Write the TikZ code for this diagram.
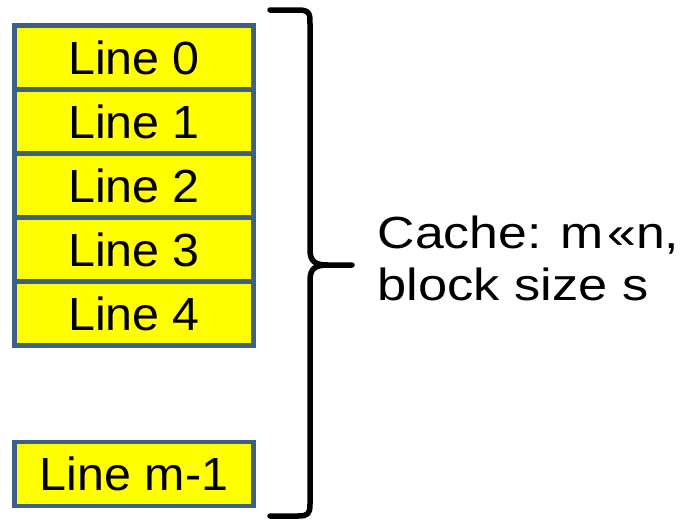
\documentclass[tikz,border=0pt]{standalone}
\usepackage{fontspec}
\setmainfont{Liberation Sans}
\definecolor{lineedge}{HTML}{3E5F8A}
\definecolor{linefill}{HTML}{FFFF00}
% horizontally widened text, as set in the slide
\newcommand{\widetxt}[2]{\scalebox{#1}[1]{#2}}
\tikzset{
  cacheline/.style={draw=lineedge, fill=linefill, line width=4.5pt,
    minimum width=239.4pt, minimum height=64pt, inner sep=0pt,
    font=\fontsize{46.5pt}{52pt}\selectfont},
  bracepath/.style={draw=black, line width=5.5pt, line cap=round, line join=round},
  caption/.style={font=\fontsize{45pt}{52pt}\selectfont, align=left, inner sep=0pt}
}
\begin{document}
\begin{tikzpicture}[x=1pt, y=-1pt]
  \useasboundingbox (0,0) rectangle (683,520);
  % stack of cache lines
  \node[cacheline] (l0) at (134,57.5) {\widetxt{1.04}{Line 0}};
  \node[cacheline] (l1) at (134,121.5) {\widetxt{1.04}{Line 1}};
  \node[cacheline] (l2) at (134,185.5) {\widetxt{1.04}{Line 2}};
  \node[cacheline] (l3) at (134,249.5) {\widetxt{1.04}{Line 3}};
  \node[cacheline] (l4) at (134,313.5) {\widetxt{1.04}{Line 4}};
  \node[cacheline] (lm) at (134,474) {\widetxt{1.04}{Line m-1}};
  % curly brace spanning the whole cache
  \coordinate (btop) at (270,10);
  \coordinate (btip) at (352,265);
  \coordinate (bbot) at (270,516);
  \path[bracepath] (btop) -- (298,10) .. controls (310,10) and (310,14) .. (310,24)
    -- (310,250) .. controls (310,262) and (316,265) .. (328,265) -- (btip)
    -- (328,265) .. controls (316,265) and (310,268) .. (310,280)
    -- (310,504) .. controls (310,514) and (308,516) .. (298,516) -- (bbot);
  % description
  \node[caption, anchor=base west] (desc) at (377.5,300)
    {\widetxt{1.15}{Cache: m\kern3pt«n,}\\\widetxt{1.165}{block size s}};
\end{tikzpicture}
\end{document}
